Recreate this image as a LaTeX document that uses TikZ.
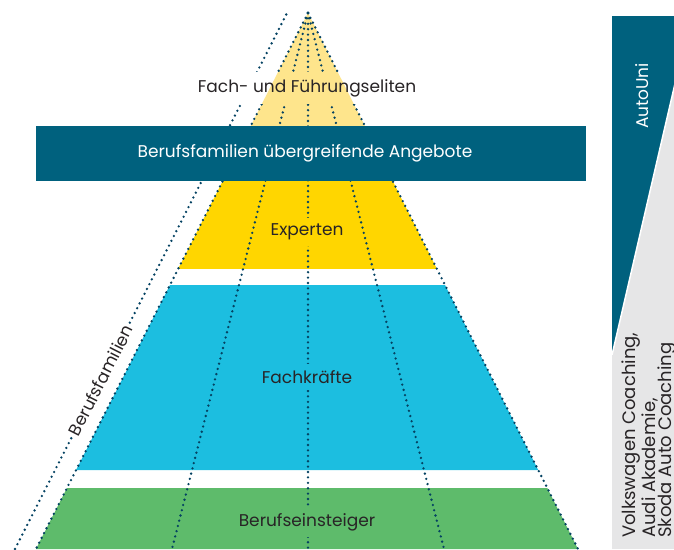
\documentclass[tikz,border=0pt]{standalone}
\usepackage{fontspec}
\setmainfont{Poppins}
\usetikzlibrary{calc}
\definecolor{blassgelb}{RGB}{254,229,140}
\definecolor{gelb}{RGB}{255,214,0}
\definecolor{hellblau}{RGB}{28,190,224}
\definecolor{gruen}{RGB}{94,187,107}
\definecolor{petrol}{RGB}{0,97,126}
\definecolor{punktblau}{RGB}{4,66,98}
\definecolor{hellgrau}{RGB}{230,230,231}
\definecolor{schrift}{RGB}{40,36,38}
\tikzset{
  punkte/.style={punktblau, line width=2.6pt, line cap=round, dash pattern=on 0pt off 5.4pt},
  stufe/.style={text=schrift, inner xsep=3pt, inner ysep=6pt},
}
% Band der Pyramide zwischen zwei Anteilen der Hoehe
\newcommand{\stufenband}[3]{\fill[#1] ($(spitze)!#2!(ul)$) -- ($(spitze)!#3!(ul)$) -- ($(spitze)!#3!(ur)$) -- ($(spitze)!#2!(ur)$) -- cycle;}
\begin{document}
\begin{tikzpicture}[x=1pt, y=-1pt, font=\fontsize{17}{16}\selectfont]
  \useasboundingbox (0,0) rectangle (674,549);
  \clip (0,0) rectangle (674,549);
  %Pyramide
  \coordinate (spitze) at (308,13);
  \coordinate (ul) at (36,549);
  \coordinate (ur) at (578,549);
  \fill[blassgelb] (spitze) -- ($(spitze)!0.2556!(ul)$) -- ($(spitze)!0.2556!(ur)$) -- cycle;
  \stufenband{gelb}{0.2556}{0.4776}
  \stufenband{hellblau}{0.5075}{0.8526}
  \stufenband{gruen}{0.8862}{1}
  %Punktlinien
  \foreach \x in {36,172,308,444,578}
    \draw[punkte] (spitze) -- (\x,549);
  \coordinate (aussen oben) at (287,13);
  \coordinate (aussen unten) at (15,549);
  \draw[punkte] (aussen unten) -- (aussen oben)
    node[pos=0.315, sloped, fill=white, text=schrift, inner sep=2pt] (familien) {Berufsfamilien};
  %Stufen
  \node[stufe, fill=gelb] (experten) at (307,232) {Experten};
  \node[stufe, fill=hellblau] (fachkraefte) at (307,377) {Fachkräfte};
  \node[stufe, fill=gruen] (einsteiger) at (307,522) {Berufseinsteiger};
  \node[fill=white, inner xsep=2pt, inner ysep=7pt] (eliten) at (307,88) {\phantom{Fach- und Führungseliten}};
  \begin{scope}
    \clip (spitze) -- ($(spitze)!0.2556!(ul)$) -- ($(spitze)!0.2556!(ur)$) -- cycle;
    \fill[blassgelb] (eliten.south west) rectangle (eliten.north east);
  \end{scope}
  \node[text=schrift] at (eliten) {Fach- und Führungseliten};
  %Balken
  \fill[petrol] (36,126) rectangle (586,181);
  \node[text=white] (angebote) at (305,153) {Berufsfamilien übergreifende Angebote};
  %Rechte Spalte
  \fill[hellgrau] (612,16) rectangle (690,549);
  \fill[petrol] (612,16) -- (690,16) -- (690,19) -- (612,355) -- cycle;
  \draw[white, line width=1.5pt] (612,355) -- (690,19);
  \node[text=white, rotate=90] (autouni) at (642,96) {AutoUni};
  \node[rotate=90, anchor=north west, align=left, inner sep=0pt, text=schrift,
        font=\fontsize{18}{16.5}\selectfont] (marken) at (622,538)
    {Volkswagen Coaching,\\Audi Akademie,\\Skoda Auto Coaching};
\end{tikzpicture}
\end{document}
